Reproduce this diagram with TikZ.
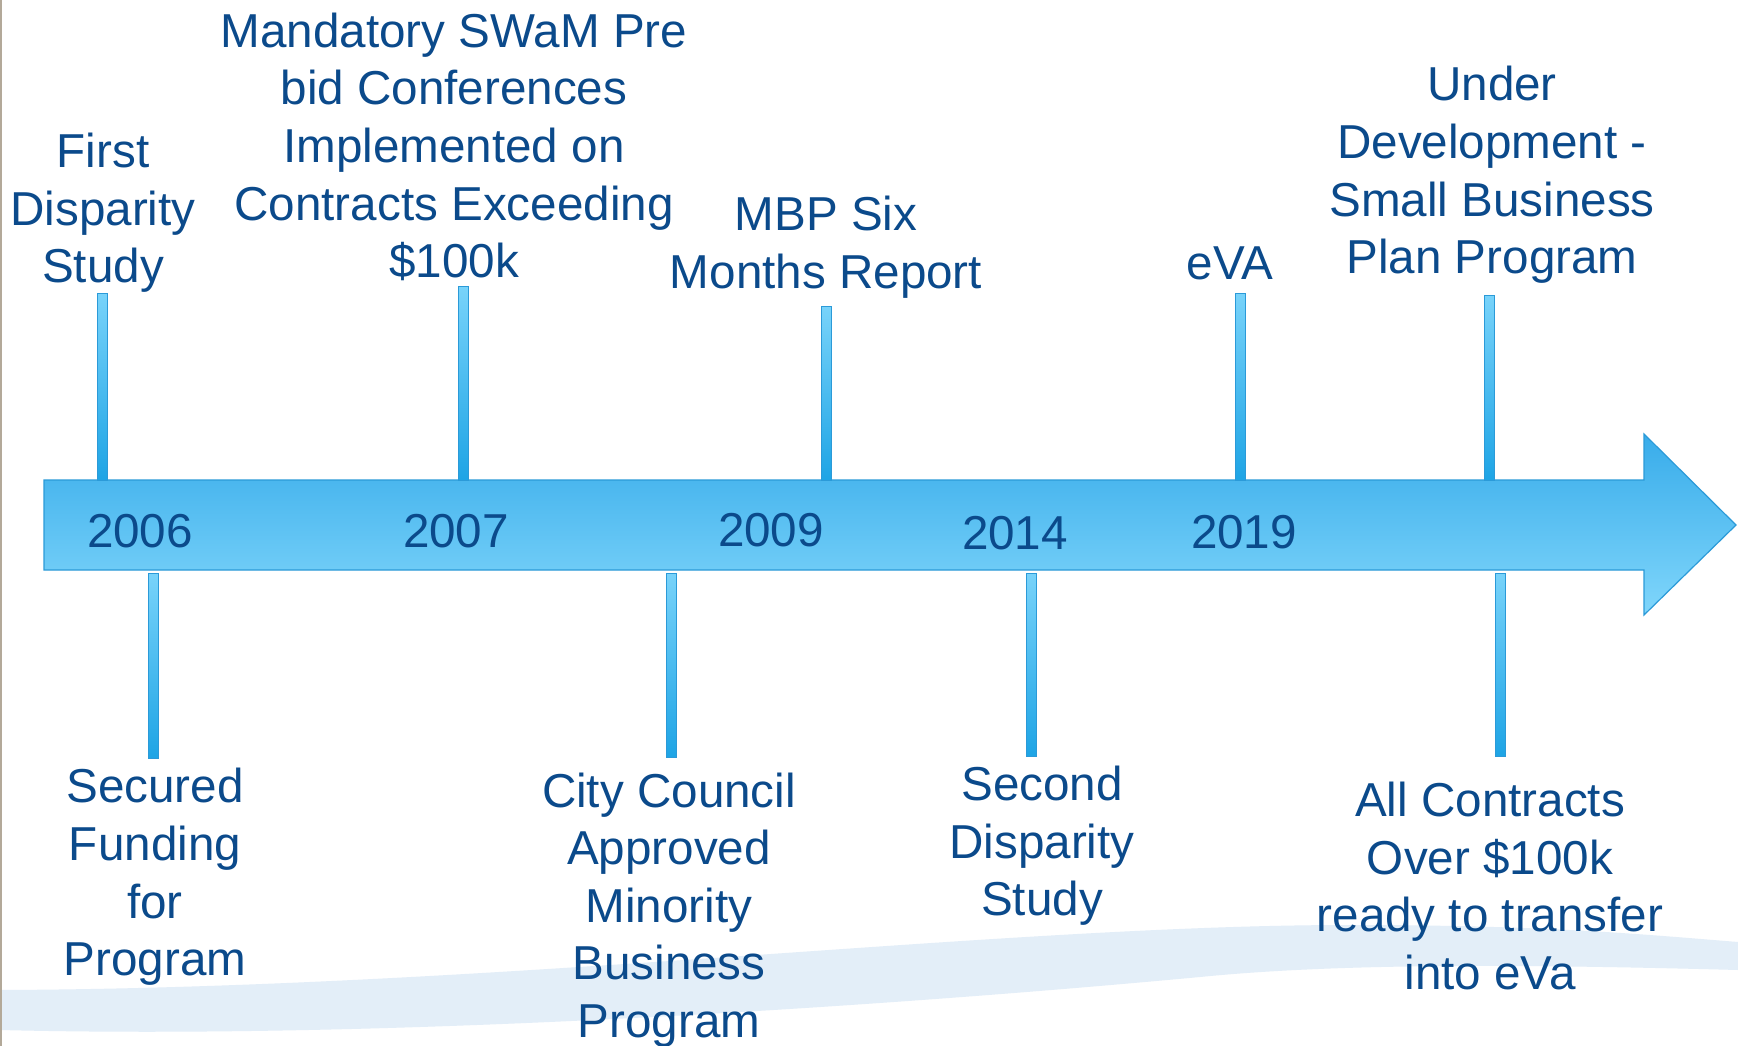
\documentclass[tikz,border=0pt]{standalone}
\usepackage{fontspec}
\setmainfont{Liberation Sans}
\definecolor{txt}{HTML}{0B4A8B}
\definecolor{arrtop}{HTML}{38ACEA}
\definecolor{arrbot}{HTML}{80D6FB}
\definecolor{arredge}{HTML}{2B9AD8}
\definecolor{stemlight}{HTML}{78D3FA}
\definecolor{stemdark}{HTML}{1EA4E5}
\definecolor{wave}{HTML}{E3EEF8}
\definecolor{edgegray}{HTML}{B3A999}
\tikzset{
  lbl/.style={text=txt, align=center, inner sep=0pt, font=\fontsize{47.6}{57.6}\selectfont},
  yr/.style={text=txt, inner sep=0pt, font=\fontsize{47.6}{57.6}\selectfont},
  stem/.style={top color=stemlight, bottom color=stemdark, draw=arredge, line width=0.8pt},
}
\begin{document}
\begin{tikzpicture}[x=1pt,y=-1pt]
\useasboundingbox (0,0) rectangle (1738,1046);
\fill[white] (0,0) rectangle (1738,1046);
% background wave
\fill[wave] (0,990) .. controls (500,988) and (1000,925) .. (1350,925)
  .. controls (1550,925) and (1650,935) .. (1738,942)
  -- (1738,970) .. controls (1550,965) and (1350,962) .. (1200,977)
  .. controls (900,1005) and (400,1040) .. (0,1030) -- cycle;
\fill[edgegray] (0,0) rectangle (2,1046);
% main arrow
\path[top color=arrtop, bottom color=arrbot, draw=arredge, line width=1.2pt]
  (44,480) -- (1644,480) -- (1644,434) -- (1736,525) -- (1644,615)
  -- (1644,570) -- (44,570) -- cycle;
% years
\node[yr] (y2006) at (140,531) {2006};
\node[yr] (y2007) at (456,531) {2007};
\node[yr] (y2009) at (771,530) {2009};
\node[yr] (y2014) at (1015,533) {2014};
\node[yr] (y2019) at (1244,532) {2019};
% upper labels
\node[lbl] (t1) at (103,213) {First\\Disparity\\Study};
\node[lbl] (t2) at (454,147) {Mandatory SWaM Pre\\bid Conferences\\Implemented on\\Contracts Exceeding\\\$100k};
\node[lbl] (t3) at (826,247) {MBP Six\\Months Report};
\node[lbl] (t4) at (1230,263) {eVA};
\node[lbl] (t5) at (1492,175) {Under\\Development -\\Small Business\\Plan Program};
% lower labels
\node[lbl] (b1) at (155,877) {Secured\\Funding\\for\\Program};
\node[lbl] (b2) at (669,910) {City Council\\Approved\\Minority\\Business\\Program};
\node[lbl] (b3) at (1042,846) {Second\\Disparity\\Study};
\node[lbl] (b4) at (1490,886) {All Contracts\\Over \$100k\\ready to transfer\\into eVa};
% stem coordinates
\coordinate (u1a) at (102,293); \coordinate (u1b) at (102,480);
\coordinate (u2a) at (463,286); \coordinate (u2b) at (463,480);
\coordinate (u3a) at (826,306); \coordinate (u3b) at (826,480);
\coordinate (u4a) at (1240,293); \coordinate (u4b) at (1240,480);
\coordinate (u5a) at (1489,295); \coordinate (u5b) at (1489,480);
\coordinate (l1a) at (153,573); \coordinate (l1b) at (153,758);
\coordinate (l2a) at (671,573); \coordinate (l2b) at (671,757);
\coordinate (l3a) at (1031,573); \coordinate (l3b) at (1031,756);
\coordinate (l4a) at (1500,573); \coordinate (l4b) at (1500,756);
\foreach \s in {u1,u2,u3,u4,u5,l1,l2,l3,l4}{
  \path[stem] ([xshift=-5pt]\s a) rectangle ([xshift=5pt]\s b);
}
\end{tikzpicture}
\end{document}
